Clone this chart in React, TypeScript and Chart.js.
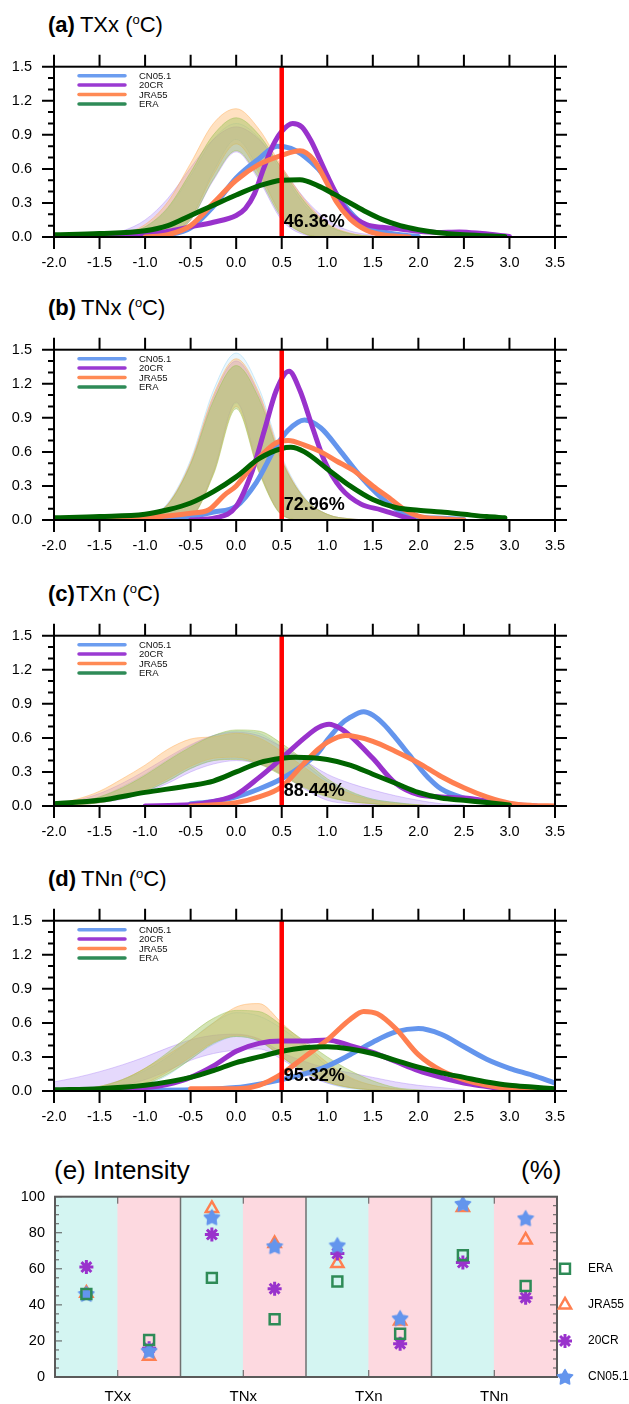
import React, { useEffect, useRef } from 'react';
import { Chart, registerables } from 'chart.js';
import { drawPoint } from 'chart.js/helpers';

Chart.register(...registerables);

const FONT = '"Liberation Sans", Arial, Helvetica, sans-serif';

type Pt = [number, number];

// ---------- shared axis values ----------
const X_TICKS = [-2, -1.5, -1, -0.5, 0, 0.5, 1, 1.5, 2, 2.5, 3, 3.5];
const Y_TICKS = [0, 0.3, 0.6, 0.9, 1.2, 1.5];
const Y_MINOR = [0, 0.1, 0.2, 0.3, 0.4, 0.5, 0.6, 0.7, 0.8, 0.9, 1.0, 1.1, 1.2, 1.3, 1.4, 1.5];
const THRESHOLD_X = 0.5;
const SERIES = ['CN05.1', '20CR', 'JRA55', 'ERA'];

const BAND_X_NARROW = [-1.5, -1.25, -1, -0.75, -0.5, -0.25, 0, 0.25, 0.5, 0.75, 1, 1.25, 1.5];
const BAND_X_WIDE = [-2, -1.75, -1.5, -1.25, -1, -0.75, -0.5, -0.25, 0, 0.25, 0.5, 0.75, 1, 1.25, 1.5, 1.75, 2, 2.25, 2.5];

// ---------- (a) TXx ----------
const TXX_CN051: Pt[] = [[-1.0, 0], [-0.75, 0.02], [-0.5, 0.08], [-0.25, 0.27], [0, 0.52], [0.25, 0.69], [0.45, 0.8], [0.6, 0.78], [0.75, 0.71], [0.9, 0.6], [1.0, 0.5], [1.1, 0.38], [1.25, 0.22], [1.4, 0.11], [1.6, 0.05], [1.8, 0.02], [2.0, 0.005]];
const TXX_20CR: Pt[] = [[-2.0, 0], [-1.5, 0.005], [-1.0, 0.02], [-0.75, 0.05], [-0.5, 0.09], [-0.25, 0.13], [0, 0.19], [0.1, 0.25], [0.2, 0.38], [0.3, 0.6], [0.4, 0.8], [0.5, 0.93], [0.62, 1.0], [0.72, 0.97], [0.82, 0.85], [0.92, 0.68], [1.0, 0.54], [1.14, 0.32], [1.25, 0.2], [1.43, 0.11], [1.6, 0.085], [1.8, 0.07], [2.0, 0.05], [2.2, 0.04], [2.45, 0.045], [2.7, 0.03], [3.0, 0.005]];
const TXX_JRA55: Pt[] = [[-1.0, 0], [-0.75, 0.02], [-0.5, 0.1], [-0.25, 0.3], [0, 0.5], [0.25, 0.64], [0.5, 0.72], [0.7, 0.76], [0.85, 0.68], [1.0, 0.47], [1.1, 0.31], [1.25, 0.16], [1.43, 0.06], [1.6, 0.02], [1.9, 0.0]];
const TXX_ERA: Pt[] = [[-2.0, 0.02], [-1.5, 0.03], [-1.0, 0.055], [-0.75, 0.1], [-0.5, 0.19], [-0.25, 0.28], [0, 0.37], [0.25, 0.45], [0.5, 0.5], [0.7, 0.505], [0.9, 0.45], [1.07, 0.38], [1.25, 0.3], [1.43, 0.22], [1.6, 0.155], [1.8, 0.1], [2.0, 0.065], [2.2, 0.04], [2.5, 0.02], [2.95, 0.005]];
const TXX_BAND_CN051_LO = [0, 0, 0, 0.024, 0.17, 0.58, 0.86, 0.59, 0.19, 0.03, 0, 0, 0];
const TXX_BAND_CN051_HI = [0.004, 0.02, 0.085, 0.25, 0.54, 0.86, 1.0, 0.87, 0.57, 0.28, 0.1, 0.025, 0.004];
const TXX_BAND_20CR_LO = [0, 0, 0, 0.02, 0.15, 0.5, 0.75, 0.5, 0.15, 0.02, 0, 0, 0];
const TXX_BAND_20CR_HI = [0.015, 0.053, 0.15, 0.34, 0.61, 0.86, 0.97, 0.86, 0.61, 0.34, 0.15, 0.053, 0.015];
const TXX_BAND_JRA55_LO = [0, 0, 0, 0.023, 0.17, 0.55, 0.82, 0.56, 0.19, 0.03, 0, 0, 0];
const TXX_BAND_JRA55_HI = [0.005, 0.03, 0.11, 0.31, 0.65, 1.0, 1.13, 0.95, 0.62, 0.33, 0.12, 0.035, 0.005];
const TXX_BAND_ERA_LO = [0, 0, 0, 0.02, 0.15, 0.51, 0.76, 0.52, 0.17, 0.03, 0, 0, 0];
const TXX_BAND_ERA_HI = [0.004, 0.022, 0.09, 0.26, 0.57, 0.9, 1.05, 0.9, 0.6, 0.31, 0.11, 0.03, 0.004];

// ---------- (b) TNx ----------
const TNX_CN051: Pt[] = [[-1.0, 0], [-0.75, 0.01], [-0.5, 0.03], [-0.25, 0.07], [0, 0.12], [0.22, 0.33], [0.44, 0.65], [0.57, 0.79], [0.75, 0.88], [0.93, 0.81], [1.15, 0.6], [1.37, 0.38], [1.59, 0.2], [1.81, 0.07], [2.0, 0.025], [2.25, 0.015], [2.5, 0.005]];
const TNX_20CR: Pt[] = [[-0.5, 0], [-0.22, 0.02], [0, 0.12], [0.18, 0.44], [0.31, 0.79], [0.44, 1.14], [0.58, 1.31], [0.7, 1.14], [0.84, 0.81], [0.97, 0.52], [1.15, 0.28], [1.37, 0.14], [1.59, 0.09], [1.81, 0.035], [1.95, 0.0]];
const TNX_JRA55: Pt[] = [[-1.5, 0], [-1.0, 0.02], [-0.5, 0.06], [-0.3, 0.09], [-0.13, 0.22], [0, 0.3], [0.22, 0.52], [0.44, 0.68], [0.57, 0.7], [0.75, 0.66], [0.93, 0.6], [1.1, 0.52], [1.28, 0.44], [1.5, 0.3], [1.72, 0.17], [1.85, 0.09], [2.0, 0.035], [2.25, 0.01], [2.5, 0.0]];
const TNX_ERA: Pt[] = [[-2.0, 0.02], [-1.5, 0.03], [-1.0, 0.05], [-0.75, 0.09], [-0.5, 0.15], [-0.25, 0.25], [0, 0.38], [0.25, 0.54], [0.5, 0.63], [0.6, 0.64], [0.75, 0.6], [1.0, 0.45], [1.25, 0.3], [1.5, 0.18], [1.75, 0.11], [2.0, 0.085], [2.25, 0.07], [2.5, 0.05], [2.75, 0.03], [2.95, 0.02]];
const TNX_BAND_CN051_LO = [0, 0, 0, 0, 0.03, 0.42, 1.03, 0.44, 0.05, 0, 0, 0, 0];
const TNX_BAND_CN051_HI = [0, 0.003, 0.025, 0.15, 0.53, 1.14, 1.47, 1.16, 0.56, 0.2, 0.05, 0.01, 0];
const TNX_BAND_20CR_LO = [0, 0, 0, 0, 0.03, 0.43, 1.04, 0.45, 0.05, 0, 0, 0, 0];
const TNX_BAND_20CR_HI = [0, 0.002, 0.024, 0.14, 0.5, 1.08, 1.4, 1.1, 0.53, 0.19, 0.05, 0.01, 0];
const TNX_BAND_JRA55_LO = [0, 0, 0, 0, 0.03, 0.41, 1.0, 0.43, 0.05, 0, 0, 0, 0];
const TNX_BAND_JRA55_HI = [0, 0.002, 0.024, 0.14, 0.51, 1.1, 1.42, 1.12, 0.54, 0.19, 0.05, 0.01, 0];
const TNX_BAND_ERA_LO = [0, 0, 0, 0, 0.027, 0.4, 0.98, 0.42, 0.045, 0, 0, 0, 0];
const TNX_BAND_ERA_HI = [0, 0.002, 0.023, 0.136, 0.49, 1.05, 1.36, 1.07, 0.52, 0.19, 0.05, 0.01, 0];

// ---------- (c) TXn ----------
const TXN_CN051: Pt[] = [[-0.5, 0.02], [-0.25, 0.04], [0, 0.08], [0.25, 0.15], [0.5, 0.24], [0.75, 0.37], [0.9, 0.47], [1.0, 0.58], [1.15, 0.72], [1.25, 0.78], [1.4, 0.83], [1.5, 0.8], [1.62, 0.72], [1.75, 0.6], [1.9, 0.45], [2.0, 0.35], [2.12, 0.24], [2.25, 0.15], [2.5, 0.07], [2.75, 0.04], [3.0, 0.02]];
const TXN_20CR: Pt[] = [[-1.0, 0], [-0.5, 0.01], [-0.25, 0.04], [0, 0.1], [0.25, 0.25], [0.5, 0.42], [0.75, 0.6], [0.9, 0.69], [1.02, 0.72], [1.15, 0.68], [1.25, 0.62], [1.5, 0.42], [1.75, 0.2], [2.0, 0.1], [2.25, 0.08], [2.5, 0.07], [2.75, 0.045], [3.0, 0.015], [3.3, 0]];
const TXN_JRA55: Pt[] = [[-0.5, 0], [0, 0.03], [0.25, 0.08], [0.5, 0.17], [0.75, 0.38], [0.9, 0.5], [1.0, 0.56], [1.2, 0.62], [1.5, 0.57], [1.75, 0.48], [2.0, 0.38], [2.25, 0.26], [2.5, 0.16], [2.75, 0.08], [3.0, 0.025], [3.25, 0.005], [3.5, 0]];
const TXN_ERA: Pt[] = [[-2.0, 0.02], [-1.5, 0.05], [-1.0, 0.12], [-0.5, 0.18], [-0.25, 0.22], [0, 0.3], [0.25, 0.38], [0.5, 0.42], [0.65, 0.43], [1.0, 0.41], [1.25, 0.36], [1.5, 0.28], [1.75, 0.2], [2.0, 0.12], [2.25, 0.07], [2.5, 0.05], [2.75, 0.03], [3.0, 0.01]];
const TXN_BAND_CN051_LO = [0, 0.01, 0.03, 0.07, 0.13, 0.22, 0.33, 0.4, 0.42, 0.38, 0.28, 0.17, 0.09, 0.04, 0.02, 0, 0, 0, 0];
const TXN_BAND_CN051_HI = [0.01, 0.03, 0.08, 0.17, 0.28, 0.41, 0.53, 0.62, 0.66, 0.64, 0.52, 0.37, 0.22, 0.12, 0.06, 0.03, 0.01, 0, 0];
const TXN_BAND_20CR_LO = [0, 0.01, 0.03, 0.06, 0.12, 0.2, 0.3, 0.37, 0.4, 0.37, 0.28, 0.15, 0.05, 0.02, 0.01, 0, 0, 0, 0];
const TXN_BAND_20CR_HI = [0.02, 0.05, 0.11, 0.2, 0.31, 0.43, 0.54, 0.62, 0.65, 0.62, 0.52, 0.4, 0.28, 0.2, 0.14, 0.09, 0.05, 0.02, 0.01];
const TXN_BAND_JRA55_LO = [0, 0.01, 0.03, 0.07, 0.14, 0.24, 0.35, 0.42, 0.43, 0.38, 0.28, 0.17, 0.09, 0.04, 0.02, 0.01, 0, 0, 0];
const TXN_BAND_JRA55_HI = [0.02, 0.06, 0.13, 0.24, 0.36, 0.5, 0.59, 0.61, 0.64, 0.6, 0.48, 0.34, 0.2, 0.11, 0.05, 0.02, 0.01, 0, 0];
const TXN_BAND_ERA_LO = [0, 0.01, 0.03, 0.07, 0.13, 0.22, 0.33, 0.4, 0.41, 0.37, 0.27, 0.16, 0.08, 0.04, 0.02, 0, 0, 0, 0];
const TXN_BAND_ERA_HI = [0.01, 0.03, 0.08, 0.16, 0.27, 0.4, 0.52, 0.62, 0.67, 0.66, 0.55, 0.4, 0.24, 0.13, 0.06, 0.03, 0.01, 0, 0];

// ---------- (d) TNn ----------
const TNN_CN051: Pt[] = [[-1.5, 0], [-1.0, 0.005], [-0.5, 0.01], [0, 0.03], [0.25, 0.06], [0.5, 0.1], [0.75, 0.15], [1.0, 0.22], [1.25, 0.32], [1.5, 0.43], [1.75, 0.52], [2.0, 0.55], [2.25, 0.5], [2.5, 0.39], [2.75, 0.28], [3.0, 0.2], [3.25, 0.14], [3.5, 0.07]];
const TNN_20CR: Pt[] = [[-2.0, 0], [-1.5, 0.01], [-1.0, 0.03], [-0.75, 0.06], [-0.5, 0.12], [-0.25, 0.22], [0, 0.35], [0.25, 0.42], [0.5, 0.44], [0.75, 0.44], [1.0, 0.45], [1.25, 0.4], [1.5, 0.34], [1.75, 0.26], [2.0, 0.18], [2.25, 0.12], [2.5, 0.07], [2.75, 0.04], [3.0, 0.01], [3.2, 0]];
const TNN_JRA55: Pt[] = [[-0.5, 0.02], [0, 0.02], [0.25, 0.05], [0.5, 0.15], [0.75, 0.3], [1.0, 0.45], [1.25, 0.63], [1.4, 0.7], [1.55, 0.68], [1.75, 0.55], [2.0, 0.32], [2.25, 0.18], [2.5, 0.1], [2.75, 0.05], [3.0, 0.02], [3.25, 0.005], [3.5, 0]];
const TNN_ERA: Pt[] = [[-2.0, 0.01], [-1.5, 0.02], [-1.0, 0.05], [-0.5, 0.12], [-0.25, 0.18], [0, 0.25], [0.25, 0.3], [0.5, 0.35], [0.75, 0.38], [1.0, 0.39], [1.25, 0.37], [1.5, 0.33], [1.75, 0.27], [2.0, 0.21], [2.25, 0.16], [2.5, 0.12], [2.75, 0.08], [3.0, 0.05], [3.25, 0.035], [3.5, 0.02]];
const TNN_BAND_CN051_LO = [0, 0, 0.01, 0.02, 0.05, 0.14, 0.28, 0.41, 0.48, 0.44, 0.3, 0.16, 0.07, 0.02, 0.01, 0, 0, 0, 0];
const TNN_BAND_CN051_HI = [0, 0.01, 0.04, 0.1, 0.18, 0.3, 0.45, 0.6, 0.69, 0.66, 0.55, 0.4, 0.22, 0.11, 0.05, 0.02, 0, 0, 0];
const TNN_BAND_20CR_LO = [0, 0.01, 0.02, 0.05, 0.1, 0.18, 0.27, 0.33, 0.36, 0.37, 0.28, 0.15, 0.07, 0.03, 0.01, 0, 0, 0, 0];
const TNN_BAND_20CR_HI = [0.08, 0.12, 0.17, 0.23, 0.3, 0.38, 0.45, 0.49, 0.5, 0.46, 0.34, 0.26, 0.2, 0.16, 0.12, 0.08, 0.05, 0.03, 0.01];
const TNN_BAND_JRA55_LO = [0, 0, 0.01, 0.03, 0.07, 0.17, 0.3, 0.43, 0.49, 0.45, 0.3, 0.17, 0.08, 0.03, 0.01, 0, 0, 0, 0];
const TNN_BAND_JRA55_HI = [0, 0.01, 0.04, 0.1, 0.2, 0.32, 0.45, 0.6, 0.74, 0.77, 0.6, 0.42, 0.25, 0.12, 0.05, 0.02, 0, 0, 0];
const TNN_BAND_ERA_LO = [0, 0, 0.01, 0.03, 0.06, 0.15, 0.28, 0.42, 0.48, 0.44, 0.3, 0.17, 0.08, 0.03, 0.01, 0, 0, 0, 0];
const TNN_BAND_ERA_HI = [0, 0.01, 0.04, 0.1, 0.2, 0.34, 0.5, 0.64, 0.71, 0.7, 0.58, 0.44, 0.3, 0.18, 0.09, 0.03, 0.01, 0, 0];

// ---------- (e) Intensity ----------
const GROUPS = ['TXx', 'TNx', 'TXn', 'TNn'];
const GROUP_TICKS = [1, 3, 5, 7];
const GROUP_SEPARATORS = [2, 4, 6];
const SLOT_X = [0.5, 1.5, 2.5, 3.5, 4.5, 5.5, 6.5, 7.5];
const INT_ERA = [46, 20.5, 55, 32, 53, 24, 67.5, 50.5];
const INT_JRA55 = [46.5, 11.5, 93.5, 74, 63, 31, 94, 76];
const INT_20CR = [61, 16, 79, 49, 68.5, 18.5, 63.5, 44];
const INT_CN051 = [46, 14.5, 88.5, 72.5, 73, 32.5, 96, 88];
const E_Y_TICKS = [0, 20, 40, 60, 80, 100];
const E_MINOR = [0, 5, 10, 15, 20, 25, 30, 35, 40, 45, 50, 55, 60, 65, 70, 75, 80, 85, 90, 95, 100];
const E_LEGEND_NAMES = ['ERA', 'JRA55', '20CR', 'CN05.1'];
const E_LEGEND_LEVELS = [60, 40, 20, 0];

// ---------- styles ----------
const COLORS = { cn: '#6495ed', cr: '#9932cc', jra: '#ff7f50', era: '#006400' };
const LEGEND_COLORS = ['#6c9df0', '#9a3ad2', '#ff8a55', '#2e8b57'];
const BAND = {
  cn: { fill: 'rgba(150,212,245,0.2)', edge: 'rgba(150,212,245,0.45)' },
  cr: { fill: 'rgba(170,130,245,0.3)', edge: 'rgba(170,130,245,0.4)' },
  jra: { fill: 'rgba(255,180,100,0.4)', edge: 'rgba(255,180,100,0.5)' },
  era: { fill: 'rgba(160,195,90,0.45)', edge: 'rgba(160,195,90,0.5)' },
};
const E_CYAN = '#d4f5f2';
const E_PINK = '#fdd9e0';

const PANELS = [
  { tag: '(a)', name: 'TXx', gap: true, top: 50, pct: '46.36%', curves: [TXX_CN051, TXX_20CR, TXX_JRA55, TXX_ERA], bandX: BAND_X_NARROW,
    bands: [[TXX_BAND_ERA_LO, TXX_BAND_ERA_HI], [TXX_BAND_JRA55_LO, TXX_BAND_JRA55_HI], [TXX_BAND_20CR_LO, TXX_BAND_20CR_HI], [TXX_BAND_CN051_LO, TXX_BAND_CN051_HI]] },
  { tag: '(b)', name: 'TNx', gap: true, top: 333, pct: '72.96%', curves: [TNX_CN051, TNX_20CR, TNX_JRA55, TNX_ERA], bandX: BAND_X_NARROW,
    bands: [[TNX_BAND_ERA_LO, TNX_BAND_ERA_HI], [TNX_BAND_JRA55_LO, TNX_BAND_JRA55_HI], [TNX_BAND_20CR_LO, TNX_BAND_20CR_HI], [TNX_BAND_CN051_LO, TNX_BAND_CN051_HI]] },
  { tag: '(c)', name: 'TXn', gap: false, top: 619, pct: '88.44%', curves: [TXN_CN051, TXN_20CR, TXN_JRA55, TXN_ERA], bandX: BAND_X_WIDE,
    bands: [[TXN_BAND_ERA_LO, TXN_BAND_ERA_HI], [TXN_BAND_JRA55_LO, TXN_BAND_JRA55_HI], [TXN_BAND_20CR_LO, TXN_BAND_20CR_HI], [TXN_BAND_CN051_LO, TXN_BAND_CN051_HI]] },
  { tag: '(d)', name: 'TNn', gap: true, top: 904, pct: '95.32%', curves: [TNN_CN051, TNN_20CR, TNN_JRA55, TNN_ERA], bandX: BAND_X_WIDE,
    bands: [[TNN_BAND_ERA_LO, TNN_BAND_ERA_HI], [TNN_BAND_JRA55_LO, TNN_BAND_JRA55_HI], [TNN_BAND_20CR_LO, TNN_BAND_20CR_HI], [TNN_BAND_CN051_LO, TNN_BAND_CN051_HI]] },
];

const PLOT_H = 187;
const PAD_TOP = 14;
const X_AXIS_H = 40;
const CANVAS_W = 629;

const ptsToXY = (p: Pt[]) => p.map(([x, y]) => ({ x, y }));
const gridToXY = (xs: number[], ys: number[]) => xs.map((x, i) => ({ x, y: ys[i] }));

function makeStarImage(color: string) {
  const R = 8, r = 4.3;
  const s = 18;
  const c = document.createElement('canvas');
  c.width = s; c.height = s;
  const g = c.getContext('2d')!;
  g.fillStyle = color; g.strokeStyle = color; g.lineJoin = 'round'; g.lineWidth = 1.5;
  g.beginPath();
  for (let i = 0; i < 10; i++) {
    const rad = i % 2 ? r : R;
    const a = -Math.PI / 2 + (i * Math.PI) / 5;
    const px = s / 2 + rad * Math.cos(a), py = s / 2 + 0.5 + rad * Math.sin(a);
    if (i === 0) g.moveTo(px, py); else g.lineTo(px, py);
  }
  g.closePath(); g.fill(); g.stroke();
  return c;
}

function densityConfig(p: any) {
  const ds: any[] = [];
  const bandStyles = [BAND.era, BAND.jra, BAND.cr, BAND.cn];
  p.bands.forEach((b: number[][], i: number) => {
    const st = bandStyles[i];
    // ERA band (i = 0) gets the lowest order among the bands, so it is painted last
    ds.push({ data: gridToXY(p.bandX, b[0]), borderColor: st.edge, borderWidth: 1, fill: false, order: 31 + i * 2, cubicInterpolationMode: 'monotone' });
    ds.push({ data: gridToXY(p.bandX, b[1]), borderColor: st.edge, borderWidth: 1, backgroundColor: st.fill, fill: '-1', order: 30 + i * 2, cubicInterpolationMode: 'monotone' });
  });
  const mainCols = [COLORS.cn, COLORS.cr, COLORS.jra, COLORS.era];
  p.curves.forEach((c: Pt[], i: number) => {
    ds.push({ data: ptsToXY(c), borderColor: mainCols[i], borderWidth: 5, fill: false, order: 10 - i, cubicInterpolationMode: 'monotone' });
  });
  ds.push({ data: [{ x: THRESHOLD_X, y: Y_TICKS[0] }, { x: THRESHOLD_X, y: Y_TICKS[Y_TICKS.length - 1] }], borderColor: '#ff0000', borderWidth: 4.5, fill: false, order: 0, borderCapStyle: 'butt' });

  const framePlugin = {
    id: 'densityFrame',
    afterDraw(chart: any) {
      const { ctx, chartArea: a, scales } = chart;
      const xs = scales.x, ys = scales.y;
      ctx.save();
      // legend
      SERIES.forEach((name, i) => {
        const y = a.top + 9 + i * 9.4;
        ctx.strokeStyle = LEGEND_COLORS[i];
        ctx.lineWidth = 3.5;
        ctx.lineCap = 'round';
        ctx.beginPath(); ctx.moveTo(a.left + 25, y); ctx.lineTo(a.left + 71, y); ctx.stroke();
        ctx.fillStyle = '#111';
        ctx.font = `9.5px ${FONT}`;
        ctx.textBaseline = 'middle';
        ctx.textAlign = 'left';
        ctx.fillText(name, a.left + 85, y + 0.5);
      });
      // percentage label
      ctx.fillStyle = '#000';
      ctx.font = `bold 18px ${FONT}`;
      ctx.textBaseline = 'middle';
      ctx.fillText(p.pct, xs.getPixelForValue(THRESHOLD_X) + 2, ys.getPixelForValue(0.135));
      // frame and ticks
      ctx.strokeStyle = '#000'; ctx.lineWidth = 2; ctx.lineCap = 'butt';
      ctx.strokeRect(a.left, a.top, a.right - a.left, a.bottom - a.top);
      ctx.beginPath();
      X_TICKS.forEach((v) => {
        const px = xs.getPixelForValue(v);
        ctx.moveTo(px, a.bottom); ctx.lineTo(px, a.bottom + 12);
        ctx.moveTo(px, a.top); ctx.lineTo(px, a.top - 12);
      });
      Y_MINOR.forEach((v) => {
        const major = Y_TICKS.some((t) => Math.abs(t - v) < 1e-6);
        const len = major ? 12 : 6;
        const py = ys.getPixelForValue(v);
        ctx.moveTo(a.left, py); ctx.lineTo(a.left - len, py);
        ctx.moveTo(a.right, py); ctx.lineTo(a.right + len, py);
      });
      ctx.stroke();
      ctx.restore();
    },
  };

  return {
    type: 'line',
    data: { datasets: ds },
    options: {
      responsive: false,
      animation: false,
      events: [],
      layout: { padding: { top: PAD_TOP, right: CANVAS_W - 555, left: 0, bottom: 0 } },
      elements: { point: { radius: 0 }, line: { borderJoinStyle: 'round', borderCapStyle: 'round' } },
      plugins: { legend: { display: false }, tooltip: { enabled: false } },
      scales: {
        x: {
          type: 'linear', min: -2, max: 3.5,
          afterBuildTicks: (s: any) => { s.ticks = X_TICKS.map((v) => ({ value: v })); },
          afterFit: (s: any) => { s.height = X_AXIS_H; },
          ticks: { callback: (v: any) => Number(v).toFixed(1), font: { family: FONT, size: 14.5 }, color: '#000', padding: 17, maxRotation: 0, autoSkip: false },
          grid: { display: false, drawTicks: false },
          border: { display: false },
        },
        y: {
          type: 'linear', min: 0, max: 1.5,
          afterBuildTicks: (s: any) => { s.ticks = Y_TICKS.map((v) => ({ value: v })); },
          afterFit: (s: any) => { s.width = 54; },
          ticks: { callback: (v: any) => Number(v).toFixed(1), font: { family: FONT, size: 14.5 }, color: '#000', padding: 22 },
          grid: { display: false, drawTicks: false },
          border: { display: false },
        },
      },
    },
    plugins: [framePlugin],
  };
}

function intensityConfig() {
  const starImg = makeStarImage(COLORS.cn);
  const green = '#2e8b57';
  const marker = {
    era: { pointStyle: 'rect', radius: 7, borderWidth: 2.5, color: green, fill: 'rgba(0,0,0,0)' },
    jra: { pointStyle: 'triangle', radius: 7, borderWidth: 2.5, color: COLORS.jra, fill: 'rgba(0,0,0,0)' },
    cr: { pointStyle: 'star', radius: 7, borderWidth: 3, color: '#9932cc', fill: '#9932cc' },
    cn: { pointStyle: starImg, radius: 8, borderWidth: 0, color: COLORS.cn, fill: COLORS.cn },
  };
  const mk = (vals: number[], m: any, order: number) => ({
    type: 'line',
    data: SLOT_X.map((x, i) => ({ x, y: vals[i] })),
    showLine: false,
    pointStyle: m.pointStyle,
    pointRadius: m.radius,
    pointBorderWidth: m.borderWidth,
    pointBorderColor: m.color,
    pointBackgroundColor: m.fill,
    order,
  });
  const legendMarkers = [marker.era, marker.jra, marker.cr, marker.cn];

  const framePlugin = {
    id: 'intensityFrame',
    afterDraw(chart: any) {
      const { ctx, chartArea: a, scales } = chart;
      const xs = scales.x, ys = scales.y;
      ctx.save();
      ctx.strokeStyle = '#707070'; ctx.lineWidth = 1.5;
      ctx.beginPath();
      GROUP_SEPARATORS.forEach((v) => {
        const px = xs.getPixelForValue(v);
        ctx.moveTo(px, a.top); ctx.lineTo(px, a.bottom);
      });
      ctx.stroke();
      ctx.strokeStyle = '#555'; ctx.lineWidth = 1;
      ctx.beginPath();
      E_MINOR.forEach((v) => {
        const major = E_Y_TICKS.includes(v);
        const len = major ? 7 : 4;
        const py = ys.getPixelForValue(v);
        ctx.moveTo(a.left, py); ctx.lineTo(a.left + len, py);
        ctx.moveTo(a.right, py); ctx.lineTo(a.right - len, py);
      });
      GROUP_TICKS.forEach((v) => {
        const px = xs.getPixelForValue(v);
        ctx.moveTo(px, a.bottom); ctx.lineTo(px, a.bottom - 7);
        ctx.moveTo(px, a.top); ctx.lineTo(px, a.top + 7);
      });
      ctx.stroke();
      ctx.strokeStyle = '#5a5a5a'; ctx.lineWidth = 2;
      ctx.strokeRect(a.left, a.top, a.right - a.left, a.bottom - a.top);
      // legend
      E_LEGEND_NAMES.forEach((name, i) => {
        const m = legendMarkers[i];
        const y = ys.getPixelForValue(E_LEGEND_LEVELS[i]);
        const x = a.right + 8;
        ctx.strokeStyle = m.color; ctx.fillStyle = m.fill; ctx.lineWidth = m.borderWidth;
        drawPoint(ctx, { pointStyle: m.pointStyle, radius: m.radius, borderWidth: m.borderWidth, rotation: 0 }, x, y);
        ctx.fillStyle = '#000';
        ctx.font = `12px ${FONT}`;
        ctx.textBaseline = 'middle'; ctx.textAlign = 'left';
        ctx.fillText(name, a.right + 31, y);
      });
      ctx.restore();
    },
  };

  return {
    type: 'bar',
    data: {
      datasets: [
        mk(INT_ERA, marker.era, 0),
        mk(INT_CN051, marker.cn, 1),
        mk(INT_20CR, marker.cr, 2),
        mk(INT_JRA55, marker.jra, 3),
        {
          type: 'bar',
          data: SLOT_X.map((x) => ({ x, y: E_Y_TICKS[E_Y_TICKS.length - 1] })),
          backgroundColor: SLOT_X.map((_, i) => (i % 2 === 0 ? E_CYAN : E_PINK)),
          borderWidth: 0,
          barPercentage: 1,
          categoryPercentage: 1,
          order: 20,
        },
      ],
    },
    options: {
      responsive: false,
      animation: false,
      events: [],
      layout: { padding: { top: 10, right: CANVAS_W - 557, left: 0, bottom: 0 } },
      plugins: { legend: { display: false }, tooltip: { enabled: false } },
      scales: {
        x: {
          type: 'linear', min: 0, max: 8, offset: false,
          afterBuildTicks: (s: any) => { s.ticks = GROUP_TICKS.map((v) => ({ value: v })); },
          afterFit: (s: any) => { s.height = 27; },
          ticks: { callback: (v: any) => GROUPS[GROUP_TICKS.indexOf(Number(v))] ?? '', font: { family: FONT, size: 15 }, color: '#000', padding: 11, maxRotation: 0, autoSkip: false },
          grid: { display: false, drawTicks: false, offset: false },
          border: { display: false },
        },
        y: {
          type: 'linear', min: 0, max: 100,
          afterBuildTicks: (s: any) => { s.ticks = E_Y_TICKS.map((v) => ({ value: v })); },
          afterFit: (s: any) => { s.width = 55; },
          ticks: { font: { family: FONT, size: 14.5 }, color: '#000', padding: 10 },
          grid: { display: false, drawTicks: false },
          border: { display: false },
        },
      },
    },
    plugins: [framePlugin],
  };
}

function ChartBox({ top, height, make }: { top: number; height: number; make: () => any }) {
  const ref = useRef<HTMLCanvasElement>(null);
  useEffect(() => {
    const chart = new Chart(ref.current as HTMLCanvasElement, make());
    return () => chart.destroy();
  }, []);
  return (
    <div style={{ position: 'absolute', left: 0, top, width: CANVAS_W, height }}>
      <canvas ref={ref} width={CANVAS_W} height={height} style={{ display: 'block', width: CANVAS_W, height }} />
    </div>
  );
}

function PanelTitle({ top, tag, name, gap }: any) {
  return (
    <div style={{ position: 'absolute', left: 48, top, font: `22px ${FONT}`, lineHeight: '26px', whiteSpace: 'nowrap', color: '#000' }}>
      <span style={{ fontWeight: 'bold' }}>{tag}</span>
      <span style={{ marginLeft: gap ? 5 : 1 }}>{name} (</span>
      <span style={{ fontSize: 13, position: 'relative', top: -8 }}>o</span>
      <span>C)</span>
    </div>
  );
}

export default function App() {
  return (
    <div style={{ position: 'absolute', left: 0, top: 0, width: 629, height: 1404, background: '#fff', overflow: 'hidden' }}>
      {PANELS.map((p) => (
        <React.Fragment key={p.tag}>
          <PanelTitle top={p.top - 25 - 13} tag={p.tag} name={p.name} gap={p.gap} />
          <ChartBox top={p.top - PAD_TOP} height={PLOT_H + PAD_TOP + X_AXIS_H} make={() => densityConfig(p)} />
        </React.Fragment>
      ))}
      <div style={{ position: 'absolute', left: 54, top: 1170 - 15, font: `26px ${FONT}`, lineHeight: '30px', whiteSpace: 'nowrap' }}>(e) Intensity</div>
      <div style={{ position: 'absolute', left: 521, top: 1170 - 15, font: `26px ${FONT}`, lineHeight: '30px', whiteSpace: 'nowrap' }}>(%)</div>
      <ChartBox top={1178} height={226} make={intensityConfig} />
    </div>
  );
}
